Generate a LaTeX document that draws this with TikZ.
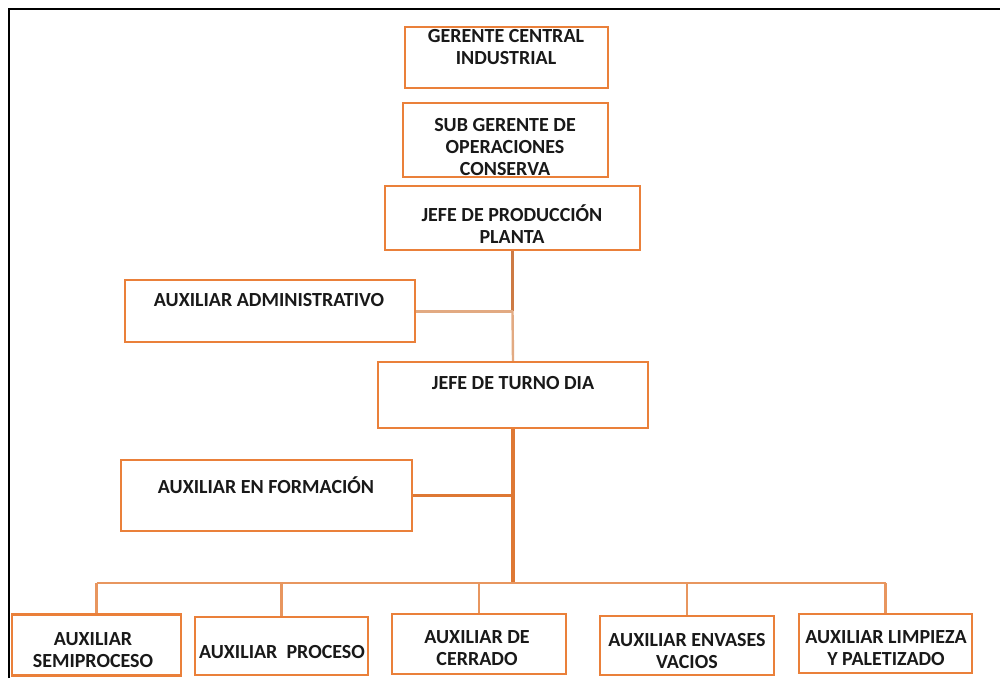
\documentclass[tikz,border=0pt]{standalone}
\usepackage{fontspec}
\setmainfont{Carlito}
\definecolor{boxor}{RGB}{234,128,58}
\definecolor{lineor}{RGB}{222,120,52}
\definecolor{darkor}{RGB}{205,122,68}
\definecolor{lightor}{RGB}{226,170,130}
\definecolor{busor}{RGB}{232,150,95}
\tikzset{
  box/.style={draw=boxor, line width=2.2pt, rectangle, inner sep=0pt},
  lbl/.style={font=\bfseries\fontsize{20}{22}\selectfont, align=center, inner sep=0pt, text=black!90},
  conn/.style={draw=lineor, line width=2.6pt},
}
\begin{document}
\begin{tikzpicture}[x=1pt,y=-1pt]
\useasboundingbox (0,0) rectangle (1000,678);
\fill[white] (0,0) rectangle (1000,678);
% frame
\draw[black, line width=2.2pt] (9,678) -- (9,9) -- (1000,9);
% boxes
\node[box, minimum width=203pt, minimum height=61pt] (gc) at (506.5,57.5) {};
\node[box, minimum width=205pt, minimum height=74pt] (sg) at (505.5,140) {};
\node[box, minimum width=255pt, minimum height=64pt] (jp) at (512.5,218) {};
\node[box, minimum width=290pt, minimum height=62pt] (aa) at (270,311) {};
\node[box, minimum width=270pt, minimum height=66pt] (jt) at (513,395) {};
\node[box, minimum width=291pt, minimum height=71pt] (af) at (266.5,495.5) {};
\node[box, minimum width=169pt, minimum height=61pt] (b1) at (96.5,645) {};
\node[box, minimum width=173pt, minimum height=58pt] (b2) at (281.5,646) {};
\node[box, minimum width=174pt, minimum height=60pt] (b3) at (479,644) {};
\node[box, minimum width=174pt, minimum height=59pt] (b4) at (687,645.5) {};
\node[box, minimum width=173pt, minimum height=59pt] (b5) at (885.5,643.5) {};
% labels
\node[lbl] (tgc) at (506,47.5) {GERENTE CENTRAL\\INDUSTRIAL};
\node[lbl] (tsg) at (505,147) {SUB GERENTE DE\\OPERACIONES\\CONSERVA};
\node[lbl] (tjp) at (512,224) {JEFE DE PRODUCCIÓN\\PLANTA};
\node[lbl] (taa) at (269,300) {AUXILIAR ADMINISTRATIVO};
\node[lbl] (tjt) at (513,383) {JEFE DE TURNO DIA};
\node[lbl] (taf) at (266,485) {AUXILIAR EN FORMACIÓN};
\node[lbl] (tb1) at (93,650) {AUXILIAR\\SEMIPROCESO};
\node[lbl] (tb2) at (282,652) {AUXILIAR\ \ PROCESO};
\node[lbl] (tb3) at (477,648.5) {AUXILIAR DE\\CERRADO};
\node[lbl] (tb4) at (687,651) {AUXILIAR ENVASES\\VACIOS};
\node[lbl] (tb5) at (886,648.5) {AUXILIAR LIMPIEZA\\Y PALETIZADO};
% connectors
\coordinate (j1) at (jp.south |- aa.east);
\coordinate (j2) at (jt.south |- 0,583);
\draw[draw=darkor, line width=2.8pt] (jp.south) -- (j1);
\draw[draw=lightor, line width=2.4pt] (j1) -- (jt.north);
\draw[draw=lightor, line width=3pt] (aa.east) -- (j1);
\draw[conn, line width=3.2pt] (jt.south) -- (j2);
\draw[conn] (af.east) -- (af.east -| jt.south);
\draw[draw=busor, line width=2.6pt] (b1.north |- j2) -- (b5.north |- j2);
\foreach \b in {b1,b2,b3,b4,b5}{
  \draw[draw=busor, line width=2.2pt] (\b.north |- j2) -- (\b.north);
}
\end{tikzpicture}
\end{document}
